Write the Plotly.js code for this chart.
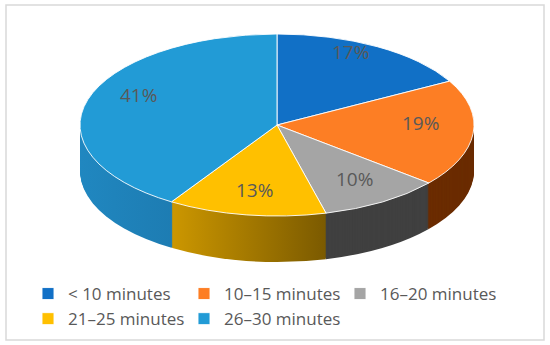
<!DOCTYPE html>
<html><head><meta charset="utf-8">
<script src="https://cdn.plot.ly/plotly-3.0.1.min.js"></script>
<style>html,body{margin:0;padding:0;background:#fff;} #chart{width:550px;height:345px;}</style>
</head><body><div id="chart"></div>
<script>
// ---- data ----
const labels = ['< 10 minutes', '10–15 minutes', '16–20 minutes', '21–25 minutes', '26–30 minutes'];
const values = [17, 19, 10, 13, 41];
const topColors = ['#1170C6', '#FD7E24', '#A5A5A5', '#FFC000', '#229BD6'];
const sideColors = ['#0B4F8E', '#6B2C00', '#404040', '#B08300', '#1D7DB4'];
// side gradients (left -> right) for the visible front walls
const sideGradients = {3: ['#CC9700', '#7B5A00'], 4: ['#2087C0', '#1A70A3']};

// ---- geometry / style constants ----
const W = 550, H = 345;
const CX = 277, CY = 125, RX = 197, RY = 91, DEPTH = 46, STEP = 1;
const LABEL_CY = CY - 9, LABEL_FX = 0.73, LABEL_FY = 0.82;
const nLayers = Math.round(DEPTH / STEP);
const FONT = 'Open Sans, Noto Sans, sans-serif';
const TXT = '#595959';

const total = values.reduce((a, b) => a + b, 0);
const pctText = values.map(v => Math.round(v / total * 100) + '%');

const traces = [];
for (let k = nLayers; k >= 1; k--) {
  traces.push({
    type: 'pie', labels: labels, values: values, sort: false, direction: 'clockwise', rotation: 0,
    marker: {colors: sideColors, line: {width: 0}},
    textinfo: 'none', hoverinfo: 'skip', showlegend: false,
    domain: {x: [0, 1], y: [0, 1]}
  });
}
traces.push({
  type: 'pie', labels: labels, values: values, sort: false, direction: 'clockwise', rotation: 0,
  marker: {colors: topColors, line: {color: 'rgba(255,255,255,0.9)', width: 1}},
  textinfo: 'none', hoverinfo: 'label+percent', showlegend: true,
  domain: {x: [0, 1], y: [0, 1]}
});

// percentage labels on the flattened top surface at each slice's mid-angle
let cum = 0;
const annotations = values.map((v, i) => {
  const mid = (cum + v / 2) / total * 2 * Math.PI;
  cum += v;
  const px = CX + LABEL_FX * RX * Math.sin(mid);
  const py = LABEL_CY - LABEL_FY * RY * Math.cos(mid);
  return {x: px / W, y: 1 - py / H, xref: 'paper', yref: 'paper', text: pctText[i],
    showarrow: false, xanchor: 'center', yanchor: 'middle',
    font: {family: FONT, size: 19, color: TXT}};
});

const layout = {
  width: W, height: H,
  margin: {l: 0, r: 0, t: 0, b: 0, autoexpand: false},
  paper_bgcolor: '#ffffff',
  showlegend: true,
  legend: {
    orientation: 'h', x: 28 / W, xanchor: 'left', y: 1 - 276 / H, yanchor: 'top',
    entrywidth: 111, entrywidthmode: 'pixels',
    font: {family: FONT, size: 17, color: TXT}, bgcolor: 'rgba(0,0,0,0)',
    traceorder: 'normal'
  },
  annotations: annotations,
  shapes: [{type: 'rect', xref: 'paper', yref: 'paper', x0: 6 / W, x1: 544 / W, y0: 1 - 340 / H, y1: 1 - 5 / H,
    line: {color: '#D9D9D9', width: 1.5}, fillcolor: 'rgba(0,0,0,0)'}]
};

const gd = document.getElementById('chart');
Plotly.newPlot(gd, traces, layout, {staticPlot: true, displayModeBar: false}).then(() => {
  const svg = gd.querySelector('svg.main-svg');
  const NS = 'http://www.w3.org/2000/svg';
  const defs = document.createElementNS(NS, 'defs');
  Object.keys(sideGradients).forEach(idx => {
    const lg = document.createElementNS(NS, 'linearGradient');
    lg.setAttribute('id', 'sideGrad' + idx);
    lg.setAttribute('x1', '0'); lg.setAttribute('x2', '1'); lg.setAttribute('y1', '0'); lg.setAttribute('y2', '0');
    sideGradients[idx].forEach((c, j) => {
      const st = document.createElementNS(NS, 'stop');
      st.setAttribute('offset', j === 0 ? '0' : '1');
      st.setAttribute('stop-color', c);
      lg.appendChild(st);
    });
    defs.appendChild(lg);
  });
  svg.insertBefore(defs, svg.firstChild);

  const groups = gd.querySelectorAll('.pielayer > g.trace');
  groups.forEach((g, i) => {
    const cd0 = gd.calcdata[i][0];
    const sx = RX / cd0.r, sy = RY / cd0.r;
    const off = i < nLayers ? (nLayers - i) * STEP : 0;
    g.setAttribute('transform',
      'translate(' + CX + ',' + (CY + off) + ') scale(' + sx + ',' + sy + ') translate(' + (-cd0.cx) + ',' + (-cd0.cy) + ')');
    if (i < nLayers) {
      g.querySelectorAll('g.slice').forEach((s, j) => {
        const pt = d3data(s);
        const idx = pt != null ? pt : j;
        if (sideGradients[idx]) {
          const p = s.querySelector('path.surface');
          if (p) p.style.fill = 'url(#sideGrad' + idx + ')';
        }
      });
    }
  });
  gd.querySelectorAll('.pielayer path').forEach(p => { p.style.vectorEffect = 'non-scaling-stroke'; });
});
function d3data(el) {
  const d = el.__data__;
  return d && typeof d.i === 'number' ? d.i : null;
}
</script>
</body></html>
